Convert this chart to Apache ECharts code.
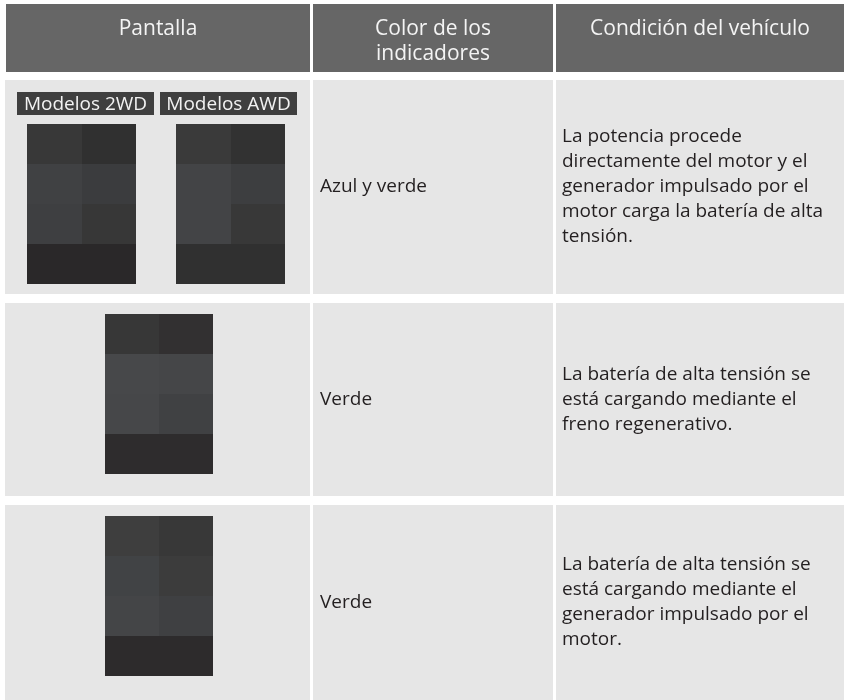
<!DOCTYPE html>
<html>
<head>
<meta charset="utf-8">
<style>html,body{margin:0;padding:0;background:#fff;}#c{width:844px;height:700px;}</style>
<script src="https://cdn.jsdelivr.net/npm/echarts@6/dist/echarts.min.js"></script>
</head>
<body>
<div id="c"></div>
<script>
// ---- data ----
var headers = ['Pantalla', 'Color de los\nindicadores', 'Condición del vehículo'];
var modelLabels = ['Modelos 2WD', 'Modelos AWD'];
var indicatorColors = ['Azul y verde', 'Verde', 'Verde'];
var conditions = [
  'La potencia procede\ndirectamente del motor y el\ngenerador impulsado por el\nmotor carga la batería de alta\ntensión.',
  'La batería de alta tensión se\nestá cargando mediante el\nfreno regenerativo.',
  'La batería de alta tensión se\nestá cargando mediante el\ngenerador impulsado por el\nmotor.'
];
var panelCols = ['L', 'R'];
var panelRows = ['1', '2', '3', '4'];
// cell shades per panel: [row0L,row0R,row1L,row1R,...]
var shades2WD = ['#383838', '#303030', '#404143', '#3b3c3e', '#3e3f41', '#373737', '#2a2829', '#2a2829'];
var shadesAWD = ['#3a3a3a', '#323232', '#434446', '#3d3e40', '#434446', '#383838', '#303030', '#303030'];
var shadesRegen = ['#373737', '#323031', '#47484a', '#454648', '#464749', '#404143', '#2e2c2d', '#2e2c2d'];
var shadesCharge = ['#3e3e3e', '#383838', '#414345', '#3c3c3c', '#444547', '#3f4042', '#2d2b2c', '#2d2b2c'];

// ---- layout ----
var FONT = '"Open Sans", "Noto Sans", sans-serif';
var colX = [[5, 310], [313, 553], [556, 844]];
var headY = [4, 72];
var rowY = [[80, 294], [303, 496], [505, 700]];
var panelBoxes = [
  {left: 27, top: 124, width: 109, height: 160, shades: shades2WD},
  {left: 176, top: 124, width: 109, height: 160, shades: shadesAWD},
  {left: 105, top: 314, width: 108, height: 160, shades: shadesRegen},
  {left: 105, top: 516, width: 108, height: 160, shades: shadesCharge}
];
var labelBoxes = [[17, 92, 137, 23], [160, 92, 137, 23]];

var graphics = [];
// header
for (var c = 0; c < 3; c++) {
  var x0 = c === 0 ? 6 : colX[c][0];
  graphics.push({type: 'rect', z: 0, shape: {x: x0, y: headY[0], width: colX[c][1] - x0, height: headY[1] - headY[0]}, style: {fill: '#666666'}});
  graphics.push({type: 'text', z: 2, x: (x0 + colX[c][1]) / 2, y: 17, style: {text: headers[c], font: '21px ' + FONT, fill: '#f4f4f4', align: 'center', verticalAlign: 'top', lineHeight: 25}});
}
// body
for (var r = 0; r < 3; r++) {
  for (var c2 = 0; c2 < 3; c2++) {
    graphics.push({type: 'rect', z: 0, shape: {x: colX[c2][0], y: rowY[r][0], width: colX[c2][1] - colX[c2][0], height: rowY[r][1] - rowY[r][0]}, style: {fill: '#e6e6e6'}});
  }
  var cy = (rowY[r][0] + rowY[r][1]) / 2;
  graphics.push({type: 'text', z: 2, x: 320, y: cy, style: {text: indicatorColors[r], font: '19px ' + FONT, fill: '#231f20', align: 'left', verticalAlign: 'middle'}});
  graphics.push({type: 'text', z: 2, x: 562, y: cy, style: {text: conditions[r], font: '19px ' + FONT, fill: '#231f20', align: 'left', verticalAlign: 'middle', lineHeight: 25}});
}
// model labels
for (var m = 0; m < 2; m++) {
  var b = labelBoxes[m];
  graphics.push({type: 'rect', z: 1, shape: {x: b[0], y: b[1], width: b[2], height: b[3]}, style: {fill: '#3f3f3f'}});
  graphics.push({type: 'text', z: 2, x: b[0] + b[2] / 2, y: b[1] + b[3] / 2 + 1, style: {text: modelLabels[m], font: '19px ' + FONT, fill: '#f2f2f2', align: 'center', verticalAlign: 'middle'}});
}

var grids = [], xAxes = [], yAxes = [], series = [];
panelBoxes.forEach(function (p, i) {
  grids.push({left: p.left, top: p.top, width: p.width, height: p.height, containLabel: false, z: 5});
  xAxes.push({type: 'category', gridIndex: i, data: panelCols, show: false, boundaryGap: true});
  yAxes.push({type: 'category', gridIndex: i, data: panelRows, show: false, inverse: true, boundaryGap: true});
  var data = [];
  for (var rr = 0; rr < panelRows.length; rr++) {
    for (var cc = 0; cc < panelCols.length; cc++) {
      data.push([cc, rr, p.shades[rr * 2 + cc]]);
    }
  }
  series.push({
    type: 'custom', xAxisIndex: i, yAxisIndex: i, z: 5, silent: true,
    data: data,
    renderItem: function (params, api) {
      var pt = api.coord([api.value(0), api.value(1)]);
      var sz = api.size([1, 1]);
      var item = data[params.dataIndex];
      var xa = Math.round(pt[0] - sz[0] / 2), xb = Math.round(pt[0] + sz[0] / 2);
      var ya = Math.round(pt[1] - sz[1] / 2), yb = Math.round(pt[1] + sz[1] / 2);
      return {type: 'rect', shape: {x: xa, y: ya, width: xb - xa, height: yb - ya}, style: {fill: item[2]}};
    }
  });
});

var chart = echarts.init(document.getElementById('c'), null, {renderer: 'canvas'});
chart.setOption({
  backgroundColor: '#ffffff',
  animation: false,
  graphic: {elements: graphics},
  grid: grids,
  xAxis: xAxes,
  yAxis: yAxes,
  series: series
});
</script>
</body>
</html>
